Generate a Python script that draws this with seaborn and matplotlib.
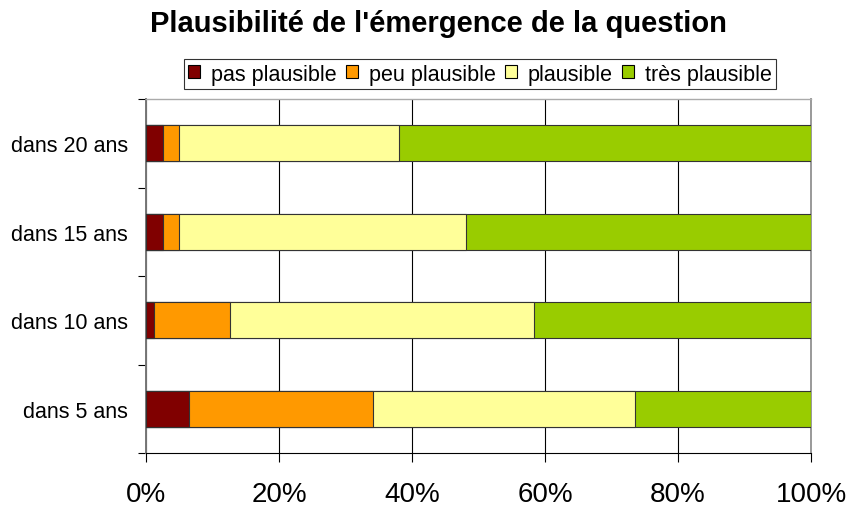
import matplotlib
matplotlib.use("Agg")
import matplotlib.pyplot as plt
from matplotlib.patches import Patch
from matplotlib.ticker import FixedLocator, PercentFormatter
import numpy as np
import pandas as pd
import seaborn as sns

# values (percent of answers)
horizons = ["dans 20 ans", "dans 15 ans", "dans 10 ans", "dans 5 ans"]
levels = ["pas plausible", "peu plausible", "plausible", "très plausible"]
pas_plausible = [2.5, 2.5, 1.25, 6.4]
peu_plausible = [2.5, 2.5, 11.45, 27.8]
plausible = [33.0, 43.1, 45.6, 39.3]
tres_plausible = [62.0, 51.9, 41.7, 26.5]
colors = ["#800000", "#ff9900", "#ffff99", "#99cc00"]

sns.set_style("white")
plt.rcParams["font.family"] = ["Liberation Sans", "DejaVu Sans"]
plt.rcParams["text.color"] = "black"
plt.rcParams["xtick.labelcolor"] = "black"
plt.rcParams["ytick.labelcolor"] = "black"

df = pd.DataFrame(
    {"horizon": horizons, levels[0]: pas_plausible, levels[1]: peu_plausible,
     levels[2]: plausible, levels[3]: tres_plausible}
)
cum = df[levels].cumsum(axis=1)
cum["horizon"] = df["horizon"]

fig = plt.figure(figsize=(8.51, 5.10), dpi=100)
ax = fig.add_axes([146 / 851, 1 - 454 / 510, 665 / 851, 354 / 510])

# stacked bars: draw cumulative totals from the widest down
for level, color in reversed(list(zip(levels, colors))):
    sns.barplot(
        data=cum, x=level, y="horizon", order=horizons, color=color,
        width=0.41, edgecolor="#333333", linewidth=0.8, ax=ax, zorder=3,
        saturation=1,
    )

ax.set_xlim(0, 100)
ax.set_ylim(3.5, -0.5)
ax.xaxis.set_major_locator(FixedLocator([0, 20, 40, 60, 80, 100]))
ax.xaxis.set_major_formatter(PercentFormatter(decimals=0))
ax.grid(axis="x", color="black", linewidth=0.8, zorder=0)
ax.set_xlabel("")
ax.set_ylabel("")

ax.tick_params(axis="x", labelsize=20, length=6.5, width=0.8, color="black",
               direction="out", bottom=True, pad=14)
ax.set_yticks(np.arange(len(horizons)))
ax.set_yticklabels(horizons)
ax.tick_params(axis="y", which="major", length=0, labelsize=15.5, pad=13)
ax.set_yticks(np.arange(-0.5, len(horizons)), minor=True)
ax.tick_params(axis="y", which="minor", length=5.8, width=0.8, color="black",
               direction="out", left=True)

ax.spines["top"].set_color("#aaaaaa")
ax.spines["top"].set_linewidth(1.0)
ax.spines["right"].set_color("#999999")
ax.spines["right"].set_linewidth(1.4)
ax.spines["left"].set_color("#777777")
ax.spines["left"].set_linewidth(1.4)
ax.spines["bottom"].set_color("black")
ax.spines["bottom"].set_linewidth(0.8)

handles = [Patch(facecolor=c, edgecolor="black", linewidth=0.8) for c in colors]
leg = fig.legend(
    handles, levels, loc="center", ncol=4,
    bbox_to_anchor=(480 / 851, 1 - 75 / 510), bbox_transform=fig.transFigure,
    fontsize=15.5, frameon=True, fancybox=False, edgecolor="black",
    handlelength=0.55, handleheight=0.55, handletextpad=0.5,
    columnspacing=0.45, borderpad=0.2, borderaxespad=0,
)
leg.get_frame().set_linewidth(0.8)

fig.text(438 / 851, 1 - 24 / 510, "Plausibilité de l'émergence de la question",
         ha="center", va="center", fontsize=21, fontweight="bold")

fig.savefig("out.png", dpi=100, facecolor="white")
